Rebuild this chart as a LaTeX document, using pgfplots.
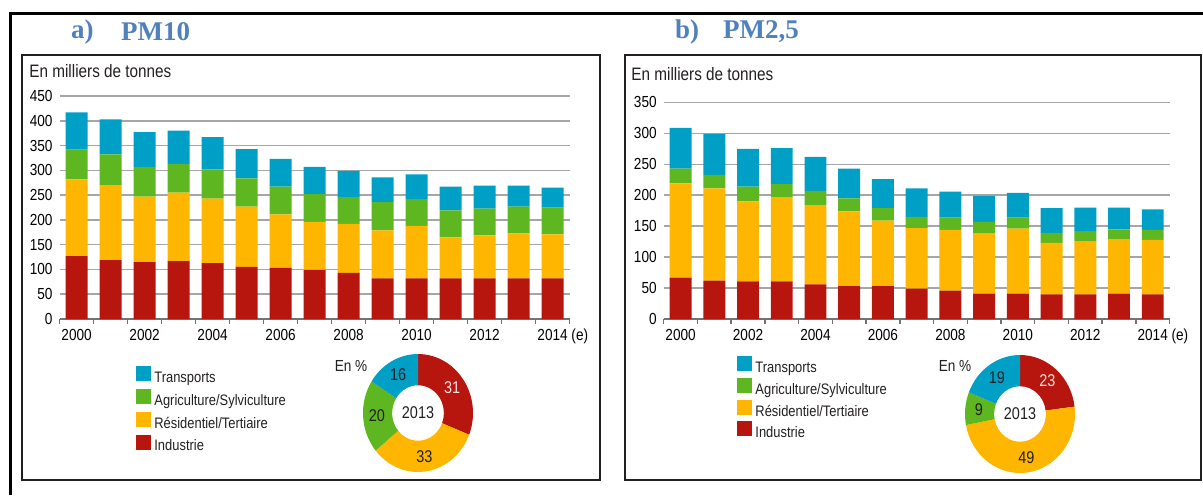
\documentclass[border=0pt]{standalone}
\usepackage{fontspec}
\setmainfont{Liberation Sans}[FakeStretch=0.85]
\newfontfamily\titlefont{Liberation Serif}[FakeStretch=1.0]
\usepackage{pgfplots}
\usepackage{pgfplotstable}
\pgfplotsset{compat=1.18}

\definecolor{cTra}{RGB}{0,160,198}
\definecolor{cAgr}{RGB}{94,182,32}
\definecolor{cRes}{RGB}{255,182,0}
\definecolor{cInd}{RGB}{182,22,14}
\definecolor{ttl}{RGB}{79,129,189}
\definecolor{ink}{RGB}{35,31,32}

% emissions, thousand tonnes (x = year - 2000)
\pgfplotstableread{
year ind res agr tra
0  127 155 60 75
1  119 151 62 71
2  115 132 60 70
3  117 138 58 67
4  113 130 59 65
5  105 122 57 59
6  103 108 56 56
7  99  97  56 55
8  93  99  54 53
9  82  97  57 50
10 82  106 54 50
11 82  83  54 48
12 82  87  54 46
13 82  91  54 42
14 82  89  54 40
}\pmten

\pgfplotstableread{
year ind res agr tra
0  67 152 24 66
1  62 149 22 66
2  61 129 24 61
3  61 136 21 58
4  56 128 23 55
5  53 121 21 48
6  53 106 20 47
7  49 98  18 46
8  46 98  20 42
9  41 97  19 42
10 41 105 18 40
11 40 83  16 40
12 40 86  16 38
13 41 88  16 35
14 40 88  16 33
}\pmdeux

\pgfplotsset{
  emis/.style={
    scale only axis, ybar stacked, bar width=0.65,
    xmin=-0.5, xmax=14.5, ymin=0,
    xtick={0,2,...,14},
    xticklabels={2000,2002,2004,2006,2008,2010,2012,{2014\makebox[0pt][l]{ (e)}}},
    minor xtick={-0.5,0.5,...,14.5},
    axis x line*=bottom, axis y line*=left,
    x axis line style={-, black!55, line width=0.8pt},
    y axis line style={draw=none},
    major tick length=0pt, minor tick length=2.5pt, tick align=outside,
    tick style={black!55, line width=0.7pt},
    ymajorgrids, grid style={black!35, line width=0.75pt},
    tick label style={font=\fontsize{8}{9}\selectfont, text=black},
    xticklabel style={yshift=-1.5pt},
    /pgf/number format/assume math mode=true,
    legend cell align=left, reverse legend,
    legend image code/.code={\fill[##1] (0pt,-1.3pt) rectangle (7.5pt,6.2pt);},
    legend style={anchor=north west, draw=none, fill=none, inner sep=0pt,
      font=\fontsize{7.6}{9}\selectfont, text=ink,
      nodes={inner sep=1pt, text height=5.6pt, text depth=1.6pt},
      /tikz/column sep=0.5pt},
  },
}

% donut sector: #1 cumulated %, #2 share %, #3 fill, #4 label colour
\newcommand{\donut}[4]{%
  \fill[#3] (axis cs:{cos(90-3.6*#1)},{sin(90-3.6*#1)})
    arc[start angle={90-3.6*#1}, end angle={90-3.6*(#1+#2)}, x radius=27.5pt, y radius=29.5pt]
    -- (axis cs:{0.47*cos(90-3.6*(#1+#2))},{0.47*sin(90-3.6*(#1+#2))})
    arc[start angle={90-3.6*(#1+#2)}, end angle={90-3.6*#1}, x radius=12.93pt, y radius=13.87pt]
    -- cycle;
  \node[text=#4, font=\fontsize{8.5}{9}\selectfont]
    at (axis cs:{0.75*cos(90-3.6*(#1+#2/2))},{0.75*sin(90-3.6*(#1+#2/2))}) {#2};
}

\begin{document}
\begin{tikzpicture}[x=0.5pt, y=-0.5pt]
\path[use as bounding box] (0,0) rectangle (1203,495);

% anchor points (picture pixels)
\coordinate (oa) at (59.6,319);
\coordinate (ob) at (663.7,319);
\coordinate (pa) at (418,413);
\coordinate (pb) at (1020,414);

% frames
\draw[line width=1.5pt] (10,495) -- (10,13) -- (1203,13);
\draw[line width=1pt, ink] (22,55) rectangle (600,480);
\draw[line width=1pt, ink] (625,55) rectangle (1201,480);

% titles
\node[anchor=west, text=ttl, font=\titlefont\bfseries\fontsize{13.5}{14}\selectfont] at (64,32) {a)};
\node[anchor=west, text=ttl, font=\titlefont\bfseries\fontsize{13.5}{14}\selectfont] at (114,32) {PM10};
\node[anchor=west, text=ttl, font=\titlefont\bfseries\fontsize{13.5}{14}\selectfont] at (668,32) {b)};
\node[anchor=west, text=ttl, font=\titlefont\bfseries\fontsize{13.5}{14}\selectfont] at (716,32) {PM2,5};

\node[anchor=west, text=ink, font=\fontsize{9}{10}\selectfont, inner sep=0pt] at (29,71) {En milliers de tonnes};
\node[anchor=west, text=ink, font=\fontsize{9}{10}\selectfont, inner sep=0pt] at (631,74) {En milliers de tonnes};

% ---- a) PM10
\begin{axis}[emis, at={(oa)}, anchor=south west,
  width=255pt, height=111.5pt, ymax=450, ytick={0,50,...,450},
  legend style={at={(axis description cs:0.1498,-0.211)}, row sep=0.55pt}]
\addplot[fill=cInd, draw=none] table[x=year, y=ind] {\pmten};
\addlegendentry{Industrie}
\addplot[fill=cRes, draw=none] table[x=year, y=res] {\pmten};
\addlegendentry{Résidentiel/Tertiaire}
\addplot[fill=cAgr, draw=none] table[x=year, y=agr] {\pmten};
\addlegendentry{Agriculture/Sylviculture}
\addplot[fill=cTra, draw=none] table[x=year, y=tra] {\pmten};
\addlegendentry{Transports}
\end{axis}

% ---- b) PM2,5
\begin{axis}[emis, at={(ob)}, anchor=south west,
  width=252.95pt, height=108.3pt, ymax=350, ytick={0,50,...,350},
  legend style={at={(axis description cs:0.145,-0.171)}, row sep=0pt}]
\addplot[fill=cInd, draw=none] table[x=year, y=ind] {\pmdeux};
\addlegendentry{Industrie}
\addplot[fill=cRes, draw=none] table[x=year, y=res] {\pmdeux};
\addlegendentry{Résidentiel/Tertiaire}
\addplot[fill=cAgr, draw=none] table[x=year, y=agr] {\pmdeux};
\addlegendentry{Agriculture/Sylviculture}
\addplot[fill=cTra, draw=none] table[x=year, y=tra] {\pmdeux};
\addlegendentry{Transports}
\end{axis}

% ---- donuts, 2013 shares in %
\begin{axis}[at={(pa)}, anchor=center, scale only axis, width=55pt, height=59pt,
  xmin=-1, xmax=1, ymin=-1, ymax=1, hide axis]
\donut{0}{31}{cInd}{red!12!white}
\donut{31}{33}{cRes}{ink}
\donut{64}{20}{cAgr}{ink}
\donut{84}{16}{cTra}{ink}
\node[text=ink, font=\fontsize{8.5}{9}\selectfont] at (axis cs:0,0) {2013};
\end{axis}
\node[anchor=center, text=ink, font=\fontsize{8}{9}\selectfont] at (351,366) {En \%};

\begin{axis}[at={(pb)}, anchor=center, scale only axis, width=55pt, height=59pt,
  xmin=-1, xmax=1, ymin=-1, ymax=1, hide axis]
\donut{0}{23}{cInd}{red!12!white}
\donut{23}{49}{cRes}{ink}
\donut{72}{9}{cAgr}{ink}
\donut{81}{19}{cTra}{ink}
\node[text=ink, font=\fontsize{8.5}{9}\selectfont] at (axis cs:0,0) {2013};
\end{axis}
\node[anchor=center, text=ink, font=\fontsize{8}{9}\selectfont] at (955,366) {En \%};
\end{tikzpicture}
\end{document}
